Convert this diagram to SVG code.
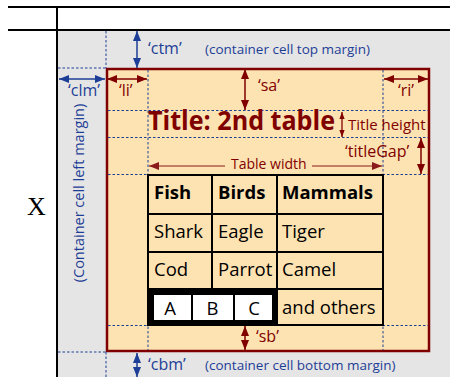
<svg xmlns="http://www.w3.org/2000/svg" width="450" height="377" viewBox="0 0 450 377">
<defs>
<style>
.frame{stroke:#000;stroke-width:2;fill:none}
.dot{stroke:#1d3e96;stroke-width:1;stroke-dasharray:2.5,2;fill:none}
.ft{font-family:"Open Sans","Liberation Sans",sans-serif}
.blue{fill:#1d3e96}
.red{fill:#800000}
.lbl{font-size:16px}
.note{font-size:13.5px}
.cell{font-size:18.5px;fill:#000}
.b{font-weight:bold}
.grid{stroke:#000;stroke-width:2;fill:none}
.arb{stroke:#1d3e96;stroke-width:1.5;fill:none;marker-start:url(#hb);marker-end:url(#hb)}
.arr{stroke:#800000;stroke-width:1.5;fill:none;marker-start:url(#hr);marker-end:url(#hr)}
.ars{stroke:#800000;stroke-width:1.3;fill:none;marker-start:url(#hs);marker-end:url(#hs)}
.arw{stroke:#8b1a1a;stroke-width:1;fill:none;marker-end:url(#hw)}
</style>
<marker id="hb" viewBox="0 0 10 8" refX="10" refY="4" markerWidth="10" markerHeight="8" markerUnits="userSpaceOnUse" orient="auto-start-reverse"><path d="M0,0 L10,4 L0,8 z" fill="#1d3e96"/></marker>
<marker id="hr" viewBox="0 0 10 8" refX="10" refY="4" markerWidth="10" markerHeight="8" markerUnits="userSpaceOnUse" orient="auto-start-reverse"><path d="M0,0 L10,4 L0,8 z" fill="#800000"/></marker>
<marker id="hs" viewBox="0 0 8 6" refX="8" refY="3" markerWidth="7" markerHeight="6" markerUnits="userSpaceOnUse" orient="auto-start-reverse"><path d="M0,0 L8,3 L0,6 z" fill="#800000"/></marker>
<marker id="hw" viewBox="0 0 10 8" refX="10" refY="4" markerWidth="10" markerHeight="8" markerUnits="userSpaceOnUse" orient="auto-start-reverse"><path d="M0,0 L10,4 L0,8 z" fill="#8b1a1a"/></marker>
</defs>

<rect width="450" height="377" fill="#fff"/>

<g id="outer-table">
<rect x="58" y="31" width="392" height="346" fill="#e5e5e5"/>
<line class="frame" x1="8" y1="7" x2="450" y2="7"/>
<line class="frame" x1="8" y1="30" x2="450" y2="30"/>
<line class="frame" x1="57" y1="7" x2="57" y2="377"/>
<text x="27" y="215" font-family="'Liberation Serif',serif" font-size="26" fill="#000">X</text>
</g>

<g id="container-box">
<rect x="107" y="69" width="322" height="282" fill="#fee3b2" stroke="#800000" stroke-width="2.5"/>
</g>

<g id="guides">
<line class="dot" x1="106" y1="31" x2="106" y2="68"/>
<line class="dot" x1="58" y1="68" x2="106" y2="68"/>
<line class="dot" x1="58" y1="352" x2="106" y2="352"/>
<line class="dot" x1="106" y1="352" x2="106" y2="377"/>
<line class="dot" x1="148" y1="70" x2="148" y2="350"/>
<line class="dot" x1="383" y1="70" x2="383" y2="350"/>
<line class="dot" x1="108" y1="110.5" x2="428" y2="110.5"/>
<line class="dot" x1="108" y1="137.5" x2="428" y2="137.5"/>
<line class="dot" x1="108" y1="174.5" x2="428" y2="174.5"/>
<line class="dot" x1="108" y1="325.5" x2="428" y2="325.5"/>
</g>

<g id="inner-table">
<rect x="149" y="175" width="234" height="150" fill="#fee3b2"/>
<rect class="grid" x="148" y="175" width="235" height="150"/>
<line class="grid" x1="212" y1="175" x2="212" y2="289"/>
<line class="grid" x1="277" y1="175" x2="277" y2="325"/>
<line class="grid" x1="148" y1="214" x2="383" y2="214"/>
<line class="grid" x1="148" y1="252" x2="383" y2="252"/>
<line class="grid" x1="148" y1="289" x2="383" y2="289"/>
<g class="ft cell">
<text class="b" x="154" y="199">Fish</text>
<text class="b" x="218" y="199">Birds</text>
<text class="b" x="282" y="199">Mammals</text>
<text x="154" y="238">Shark</text>
<text x="218" y="238">Eagle</text>
<text x="282" y="238">Tiger</text>
<text x="154" y="276">Cod</text>
<text x="218" y="276">Parrot</text>
<text x="282" y="276">Camel</text>
<text x="282" y="314">and others</text>
</g>
</g>

<g id="nested-table">
<rect x="148" y="289" width="129" height="36" fill="#000"/>
<rect x="154" y="295" width="37" height="25" fill="#fff"/>
<rect x="193" y="295" width="40" height="25" fill="#fff"/>
<rect x="235" y="295" width="37" height="25" fill="#fff"/>
<g class="ft cell" text-anchor="middle">
<text x="170" y="315">A</text>
<text x="212.5" y="315">B</text>
<text x="254" y="315">C</text>
</g>
</g>

<g id="title">
<text class="ft red b" x="148" y="130" font-size="26" textLength="187" lengthAdjust="spacingAndGlyphs">Title: 2nd table</text>
</g>

<g id="connectors">
<line class="arb" x1="137" y1="31" x2="137" y2="68"/>
<line class="arb" x1="59" y1="79" x2="105" y2="79"/>
<line class="arr" x1="107" y1="79" x2="147" y2="79"/>
<line class="arr" x1="245" y1="69" x2="245" y2="110"/>
<line class="arr" x1="384" y1="79" x2="428" y2="79"/>
<line class="ars" x1="342" y1="112" x2="342" y2="137"/>
<line class="arr" x1="421" y1="138" x2="421" y2="174"/>
<line class="arw" x1="225" y1="166" x2="149" y2="166"/>
<line class="arw" x1="312" y1="166" x2="382" y2="166"/>
<line class="arr" x1="245" y1="326" x2="245" y2="350"/>
<line class="arb" x1="137" y1="353" x2="137" y2="377"/>
</g>

<g id="labels" class="ft">
<text class="blue lbl" x="148" y="54">‘ctm’</text>
<text class="blue note" x="205" y="54">(container cell top margin)</text>
<text class="blue lbl" x="68" y="96">‘clm’</text>
<text class="red lbl" x="119" y="96">‘li’</text>
<text class="red lbl" x="258" y="91">‘sa’</text>
<text class="red lbl" x="398" y="96">‘ri’</text>
<text class="red" x="348" y="130" font-size="15">Title height</text>
<text class="red lbl" x="345" y="157">‘titleGap’</text>
<text class="red" x="231" y="169" font-size="14">Table width</text>
<text class="red lbl" x="256" y="342">‘sb’</text>
<text class="blue lbl" x="148" y="370">‘cbm’</text>
<text class="blue note" x="205" y="370">(container cell bottom margin)</text>
<text class="blue" font-size="14.5" transform="translate(84,193) rotate(-90)" text-anchor="middle">(Container cell left margin)</text>
</g>
</svg>
